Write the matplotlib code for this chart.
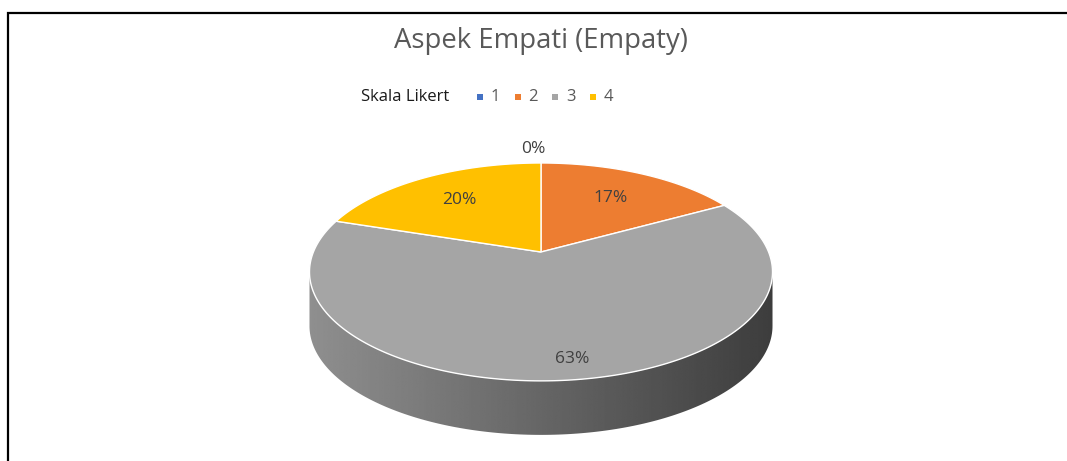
"""
Aspek Empati (Empaty) - pie 3D gaya Excel
"""
import numpy as np
import matplotlib
matplotlib.use("Agg")
import matplotlib.pyplot as plt
from matplotlib.patches import Polygon, Rectangle

plt.rcParams['font.family'] = ['Open Sans', 'DejaVu Sans']

# Data
kategori = ['1', '2', '3', '4']
persen = [0, 17, 63, 20]
warna = ['#4472C4', '#ED7D31', '#A5A5A5', '#FFC000']
judul = 'Aspek Empati (Empaty)'
judul_legenda = 'Skala Likert'

# Geometri (piksel)
W, H = 1067, 461
CX, CY = 541, 252          # titik pusat pie (apex)
A, B, K = 227.6, 105.3, 0.183  # skala horizontal, vertikal, perspektif
D = 54                      # tebal pie
LABEL_R = [1.19, 0.66, 0.86, 0.67]
LABEL_DX = [-8, 0, 9, 0]


def proj(theta, r=1.0, dy=0.0):
    u = r * np.cos(theta)
    v = r * np.sin(theta)
    w = 1 + K * v
    return CX + A * u / w, CY + dy - B * v / w


fig = plt.figure(figsize=(W / 100, H / 100), dpi=100)
ax = fig.add_axes([0, 0, 1, 1])
ax.set_xlim(0, W)
ax.set_ylim(H, 0)
ax.axis('off')

# Bingkai (hanya kiri dan atas terlihat)
ax.plot([8, 8, W], [H, 13, 13], color='black', lw=1.6, solid_joinstyle='miter')

# Sisi samping (depan) dengan gradien
t = np.linspace(np.pi + np.arcsin(K), 2 * np.pi - np.arcsin(K), 200)
xt, yt = proj(t)
xb, yb = proj(t[::-1], dy=D)
sisi = Polygon(np.column_stack([np.r_[xt, xb], np.r_[yt, yb]]), closed=True,
               facecolor='none', edgecolor='none')
ax.add_patch(sisi)
grad = np.linspace(0.56, 0.24, 256)[None, :]
im = ax.imshow(grad, cmap='gray', vmin=0, vmax=1, aspect='auto',
               extent=[xt.min(), xt.max(), yb.max() + 2, yt.min() - 2],
               interpolation='bilinear', zorder=1)
im.set_clip_path(sisi)

# Permukaan atas: mulai jam 12, searah jarum jam
total = sum(persen)
awal = np.pi / 2
for i, p in enumerate(persen):
    akhir = awal - 2 * np.pi * p / total
    tt = np.linspace(awal, akhir, max(2, int(abs(akhir - awal) * 60)))
    xs, ys = proj(tt)
    poly = Polygon(np.column_stack([np.r_[CX, xs], np.r_[CY, ys]]), closed=True,
                   facecolor=warna[i], edgecolor='white', lw=1.0, zorder=2)
    ax.add_patch(poly)
    tengah = (awal + akhir) / 2
    lx, ly = proj(tengah, LABEL_R[i])
    ax.text(lx + LABEL_DX[i], ly, f'{p}%', ha='center', va='center',
            fontsize=12.5, color='#404040', zorder=3)
    awal = akhir

# Judul
ax.text(540.5, 41, judul, ha='center', va='center', fontsize=19.8, color='#595959')

# Legenda
ax.text(361, 97, judul_legenda, ha='left', va='center', fontsize=12,
        color='#1a1a1a')
for i, k in enumerate(kategori):
    x0 = 480 + i * 37.5
    ax.add_patch(Rectangle((x0 - 3, 94), 6, 6, facecolor=warna[i], edgecolor='none'))
    ax.text(x0 + 11, 97, k, ha='left', va='center', fontsize=12, color='#595959')

fig.savefig('out.png', dpi=100)
